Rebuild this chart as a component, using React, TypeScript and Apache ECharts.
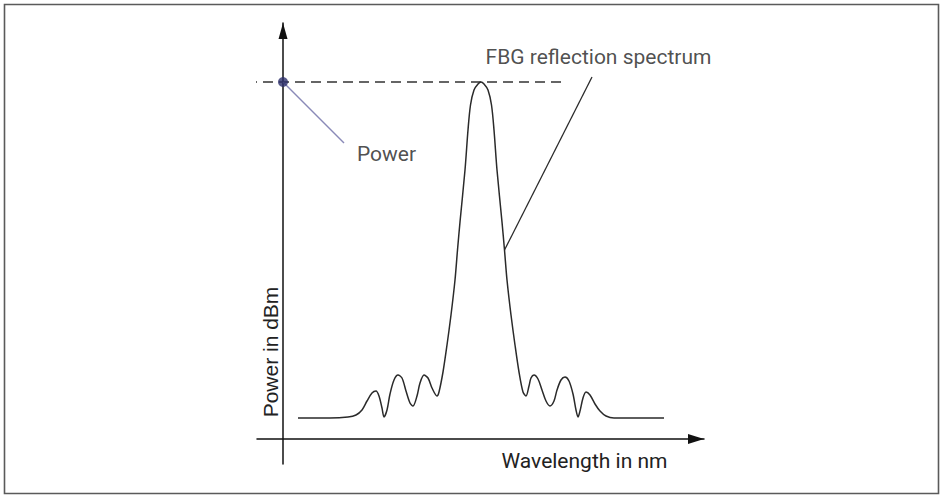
import React, { useEffect, useRef } from "react";
import * as echarts from "echarts";

// Spectrum (arbitrary units: wavelength to the right, power upward)
const wavelength = [
  15, 47, 65, 73, 79, 84, 89, 93, 96, 99,
  101, 104, 107, 111, 115, 119, 123, 127, 130, 134,
  137, 141, 145, 149, 154, 156, 160, 164, 168, 172,
  174.5, 177, 182, 185, 187.5, 191, 195, 198, 201, 205,
  208.5, 211, 214, 219, 221.5, 224, 228, 232, 236, 240,
  243, 246, 248, 251, 255, 259, 263, 267, 271, 274,
  278, 282, 286, 290, 293, 295, 297, 300, 303, 307,
  312, 317, 323, 331, 357, 381,
];
const power = [
  21, 21, 22, 24, 29, 38, 46, 48, 43, 31,
  22, 29, 45, 59, 64, 61, 48, 36, 33, 43,
  56, 64, 61, 51, 43, 47, 67, 94, 124, 159,
  189, 217, 269, 309, 334, 349, 355, 357, 355, 349,
  334, 309, 269, 217, 189, 159, 124, 94, 67, 47,
  43, 53, 61, 64, 60, 49, 38, 33, 38, 49,
  59, 62, 58, 45, 29, 22, 28, 41, 47, 44,
  35, 28, 23, 21, 21, 21,
];

// Axis extents (the axes cross at 0, each reaching a little past the other)
const xRange = [-26, 421];
const yRange = [-25, 416];

// Peak power level (dashed reference line) and its marker on the power axis
const peakPower = 357;
const peakLevelX = [-36, 284];
const powerMarker = [0, peakPower];

// Annotation leader lines [start, end]
const powerLeader = [
  [0, 357],
  [61, 296],
];
const fbgLeader = [
  [221.5, 189],
  [309, 362],
];

// Texts
const powerLabel = "Power";
const fbgLabel = "FBG reflection spectrum";
const yTitle = "Power in dBm";
const xTitle = "Wavelength in nm";

export default function App() {
  const ref = useRef<HTMLDivElement>(null);

  useEffect(() => {
    if (!ref.current) return;
    const chart = echarts.init(ref.current, undefined, { renderer: "svg" });

    const axisLine = (size: number[]) => ({
      show: true,
      onZero: true,
      symbol: ["none", "triangle"],
      symbolSize: size,
      symbolOffset: [0, -size[1] / 2],
      lineStyle: { color: "#111", width: 1.5 },
    });

    chart.setOption({
      animation: false,
      backgroundColor: "#ffffff",
      grid: { left: 257, right: 238, top: 23, bottom: 31 },
      xAxis: {
        type: "value",
        min: xRange[0],
        max: xRange[1],
        axisLine: axisLine([10, 16]),
        axisTick: { show: false },
        axisLabel: { show: false },
        splitLine: { show: false },
      },
      yAxis: {
        type: "value",
        min: yRange[0],
        max: yRange[1],
        axisLine: axisLine([9, 16]),
        axisTick: { show: false },
        axisLabel: { show: false },
        splitLine: { show: false },
      },
      series: [
        {
          name: "spectrum",
          type: "line",
          silent: true,
          data: wavelength.map((x, i) => [x, power[i]]),
          smooth: 0.3,
          symbol: "none",
          lineStyle: { color: "#2a2a2a", width: 1.5 },
          z: 3,
        },
        {
          name: "peak level",
          type: "line",
          silent: true,
          clip: false,
          data: peakLevelX.map((x) => [x, peakPower]),
          symbol: "none",
          lineStyle: { color: "#333", width: 1.5, type: [10, 6] },
          z: 2,
        },
        {
          name: "power leader",
          type: "line",
          silent: true,
          data: powerLeader,
          symbol: "none",
          lineStyle: { color: "#8a8ab8", width: 1.5 },
          z: 4,
        },
        {
          name: "fbg leader",
          type: "line",
          silent: true,
          data: fbgLeader,
          symbol: "none",
          lineStyle: { color: "#2a2a2a", width: 1.3 },
          z: 4,
        },
        {
          name: "power marker",
          type: "scatter",
          silent: true,
          data: [powerMarker],
          symbolSize: 10,
          itemStyle: { color: "#2d2f6b" },
          z: 10,
        },
        {
          name: "labels",
          type: "scatter",
          silent: true,
          symbolSize: 1,
          itemStyle: { color: "rgba(0,0,0,0)" },
          label: {
            show: true,
            position: "inside",
            verticalAlign: "middle",
            color: "#222",
            fontSize: 21,
            fontFamily: "Roboto",
          },
          data: [
            {
              value: powerLeader[1],
              label: { formatter: powerLabel, align: "left", offset: [13, 11] },
            },
            {
              value: fbgLeader[1],
              label: { formatter: fbgLabel, align: "center", offset: [6.5, -20] },
            },
          ],
          z: 10,
        },
      ],
      graphic: [
        {
          type: "rect",
          silent: true,
          shape: { x: 4.5, y: 4.5, width: 934, height: 489 },
          style: { fill: "none", stroke: "#5a5a5a", lineWidth: 1.6 },
        },
        {
          type: "text",
          silent: true,
          x: 270,
          y: 352,
          rotation: Math.PI / 2,
          style: {
            text: yTitle,
            fill: "#222",
            font: "21px 'Liberation Sans', Arial, sans-serif",
            textAlign: "center",
            textVerticalAlign: "middle",
          },
        },
        {
          type: "text",
          silent: true,
          x: 584.5,
          y: 461,
          style: {
            text: xTitle,
            fill: "#222",
            font: "21px Roboto, sans-serif",
            textAlign: "center",
            textVerticalAlign: "middle",
          },
        },
      ],
    });

    return () => chart.dispose();
  }, []);

  return (
    <div
      ref={ref}
      style={{ position: "absolute", left: 0, top: 0, width: 942, height: 495, background: "#fff" }}
    />
  );
}
